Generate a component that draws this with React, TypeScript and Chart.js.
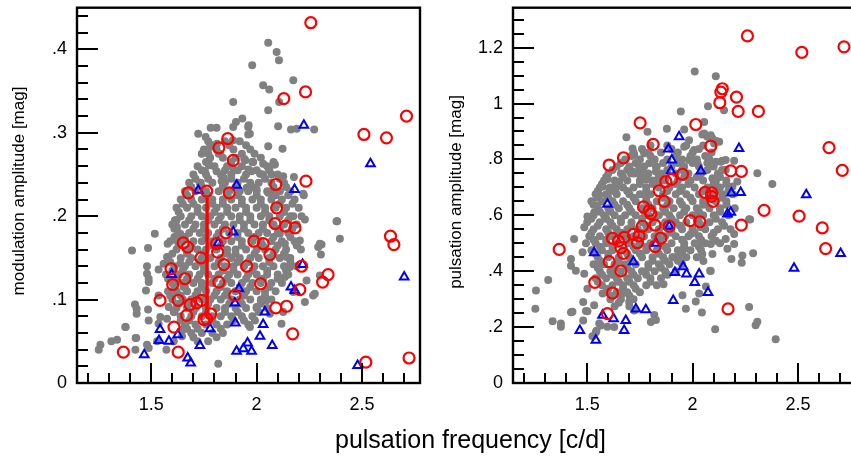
import React, { useEffect, useRef } from "react";
import { Chart, registerables } from "chart.js";

Chart.register(...registerables);

// ---------- axis ticks ----------
const xMajorTicks = [1.5, 2, 2.5];
const xMajorLabels = ["1.5", "2", "2.5"];
const xMinorTicks = [1.2, 1.3, 1.4, 1.6, 1.7, 1.8, 1.9, 2.1, 2.2, 2.3, 2.4, 2.6, 2.7];

const yLeftMajorTicks = [0, 0.1, 0.2, 0.3, 0.4];
const yLeftMajorLabels = ["0", ".1", ".2", ".3", ".4"];
const yLeftMinorTicks = [0.02, 0.04, 0.06, 0.08, 0.12, 0.14, 0.16, 0.18, 0.22, 0.24, 0.26, 0.28, 0.32, 0.34, 0.36, 0.38, 0.42, 0.44];

const yRightMajorTicks = [0, 0.2, 0.4, 0.6, 0.8, 1, 1.2];
const yRightMajorLabels = ["0", ".2", ".4", ".6", ".8", "1", "1.2"];
const yRightMinorTicks = [0.05, 0.1, 0.15, 0.25, 0.3, 0.35, 0.45, 0.5, 0.55, 0.65, 0.7, 0.75, 0.85, 0.9, 0.95, 1.05, 1.1, 1.15, 1.25, 1.3];

const xTitle = "pulsation frequency [c/d]";
const yLeftTitle = "modulation amplitude [mag]";
const yRightTitle = "pulsation amplitude [mag]";

// ---------- LEFT panel: modulation amplitude ----------
const leftRedCircles: [number, number][] = [
  [2.257, 0.432], [2.232, 0.349], [2.129, 0.341], [2.711, 0.320], [2.509, 0.298], [2.616, 0.294],
  [1.863, 0.293], [1.821, 0.282], [1.889, 0.267], [2.234, 0.242], [2.091, 0.238], [1.676, 0.228],
  [1.763, 0.230], [1.870, 0.228], [2.095, 0.210], [2.087, 0.191], [2.137, 0.188], [2.182, 0.186],
  [1.855, 0.180], [1.652, 0.168], [1.673, 0.163], [1.810, 0.167], [1.815, 0.157], [1.987, 0.170],
  [2.031, 0.167], [2.063, 0.154], [2.635, 0.176], [2.651, 0.166], [1.736, 0.150], [1.845, 0.142],
  [1.953, 0.140], [2.213, 0.140], [1.594, 0.137], [1.660, 0.125], [1.602, 0.118], [1.821, 0.121],
  [2.019, 0.119], [2.339, 0.130], [2.313, 0.121], [2.205, 0.112], [1.897, 0.105], [1.542, 0.099],
  [1.628, 0.099], [1.684, 0.094], [1.716, 0.096], [1.739, 0.099], [1.668, 0.081], [1.763, 0.077],
  [1.782, 0.083], [1.750, 0.076], [2.091, 0.090], [2.142, 0.092], [1.608, 0.067], [2.171, 0.059],
  [1.368, 0.037], [1.628, 0.037], [2.518, 0.025], [2.723, 0.030],
];

const leftRedLine: [number, number][] = [[1.765, 0.222], [1.765, 0.083]];

const leftBlueTriangles: [number, number][] = [
  [2.224, 0.309], [2.540, 0.263], [1.723, 0.231], [1.905, 0.237], [2.180, 0.232], [1.889, 0.181],
  [1.818, 0.168], [1.597, 0.130], [2.218, 0.142], [1.916, 0.113], [2.163, 0.115], [2.181, 0.111],
  [2.700, 0.127], [1.897, 0.096], [1.899, 0.072], [2.039, 0.085], [2.031, 0.070], [1.542, 0.064],
  [1.779, 0.065], [1.626, 0.058], [1.537, 0.051], [1.584, 0.050], [1.731, 0.045], [2.016, 0.056],
  [2.074, 0.045], [1.957, 0.048], [1.937, 0.041], [1.905, 0.038], [1.976, 0.038], [1.467, 0.034],
  [1.673, 0.030], [1.687, 0.024], [2.479, 0.021],
];

const leftGrayOuter: [number, number][] = [
  [2.055, 0.408], [2.095, 0.397], [2.106, 0.387], [1.979, 0.381], [2.174, 0.363], [2.031, 0.357],
  [2.060, 0.352], [2.107, 0.337], [1.889, 0.337], [2.055, 0.327], [1.932, 0.317], [1.902, 0.313],
  [1.889, 0.307], [1.960, 0.307], [1.960, 0.298], [1.782, 0.306], [1.810, 0.306], [1.723, 0.299],
  [1.758, 0.295], [2.102, 0.308], [2.163, 0.304], [2.190, 0.305], [2.273, 0.304], [2.055, 0.284],
  [2.123, 0.281], [1.779, 0.283], [1.771, 0.275], [1.941, 0.269], [1.984, 0.265], [2.031, 0.263],
  [2.087, 0.262], [1.774, 0.261], [1.755, 0.254], [1.810, 0.254], [1.976, 0.254], [2.016, 0.251],
  [2.071, 0.250], [2.126, 0.248], [2.177, 0.247], [2.224, 0.225], [1.735, 0.240], [1.834, 0.242],
  [1.953, 0.234], [2.382, 0.194], [1.613, 0.195], [1.888, 0.291], [1.812, 0.287], [1.827, 0.275],
  [1.773, 0.263], [1.844, 0.246], [1.891, 0.256], [1.946, 0.267], [1.962, 0.256], [1.962, 0.309],
  [1.968, 0.299], [1.981, 0.265], [2.082, 0.262], [2.000, 0.232], [2.055, 0.228], [2.079, 0.228],
  [2.221, 0.227],
  [1.259, 0.046], [1.251, 0.040], [1.311, 0.050], [1.338, 0.052], [1.377, 0.067], [1.429, 0.054],
  [1.425, 0.040], [1.409, 0.159], [1.485, 0.162], [1.517, 0.179], [1.578, 0.167], [1.619, 0.195],
  [1.480, 0.140], [1.480, 0.131], [1.535, 0.136], [1.488, 0.125], [1.488, 0.121], [1.475, 0.111],
  [1.535, 0.105], [1.423, 0.094], [1.431, 0.089], [1.431, 0.083], [1.485, 0.088], [1.488, 0.075],
  [1.543, 0.079], [1.535, 0.071], [1.575, 0.077], [1.480, 0.046], [1.488, 0.042], [1.528, 0.050],
  [1.572, 0.040], [1.607, 0.050], [1.646, 0.063], [1.646, 0.056], [1.818, 0.023], [1.575, 0.151],
  [1.559, 0.143], [1.622, 0.187], [1.638, 0.179], [1.622, 0.171], [1.638, 0.143], [1.622, 0.123],
  [1.654, 0.115], [1.583, 0.091], [1.607, 0.085], [1.654, 0.065], [1.379, 0.067], [1.426, 0.054],
  [2.379, 0.194], [2.395, 0.173], [2.300, 0.167], [2.292, 0.163], [2.305, 0.154], [2.229, 0.196],
  [2.213, 0.200], [2.174, 0.200], [2.205, 0.171], [2.190, 0.167], [2.237, 0.123], [2.276, 0.107],
  [2.229, 0.097], [2.300, 0.129], [2.174, 0.109], [2.126, 0.085], [2.118, 0.071], [2.047, 0.099],
  [2.063, 0.083], [2.142, 0.151], [2.158, 0.139], [2.110, 0.179], [2.134, 0.167], [2.134, 0.127],
  [2.000, 0.091], [1.992, 0.075], [1.968, 0.067], [2.308, 0.166], [2.268, 0.105],
];

// dense core, read row by row: [y, x values]
const leftGrayCoreRows: [number, number[]][] = [
  [0.290, [1.77, 1.85, 1.92]],
  [0.285, [1.79, 1.87, 1.95]],
  [0.280, [1.75, 1.81, 1.89, 1.97]],
  [0.275, [1.74, 1.82, 1.93, 1.99]],
  [0.270, [1.78, 1.84, 1.90, 2.02]],
  [0.265, [1.76, 1.88, 1.98, 2.08]],
  [0.260, [1.72, 1.80, 1.86, 1.93, 2.05]],
  [0.255, [1.74, 1.85, 1.91, 2.00, 2.06]],
  [0.250, [1.70, 1.76, 1.83, 1.88, 1.95, 2.03, 2.10]],
  [0.245, [1.71, 1.77, 1.88, 1.94, 2.04, 2.11]],
  [0.240, [1.68, 1.73, 1.79, 1.85, 1.91, 1.97, 2.01, 2.07, 2.13]],
  [0.235, [1.69, 1.74, 1.84, 1.90, 1.98, 2.08, 2.14]],
  [0.230, [1.66, 1.71, 1.76, 1.82, 1.87, 1.92, 1.96, 2.00, 2.05, 2.11, 2.16]],
  [0.225, [1.67, 1.77, 1.86, 1.91, 2.00, 2.09, 2.15]],
  [0.220, [1.64, 1.69, 1.74, 1.79, 1.84, 1.88, 1.93, 1.98, 2.02, 2.07, 2.12, 2.18]],
  [0.215, [1.65, 1.70, 1.79, 1.84, 1.93, 2.02, 2.11, 2.17]],
  [0.210, [1.62, 1.67, 1.72, 1.76, 1.81, 1.86, 1.90, 1.95, 2.00, 2.04, 2.09, 2.14, 2.20]],
  [0.205, [1.63, 1.72, 1.80, 1.86, 1.95, 2.04, 2.13]],
  [0.200, [1.64, 1.69, 1.74, 1.78, 1.83, 1.88, 1.92, 1.97, 2.02, 2.06, 2.11, 2.16]],
  [0.195, [1.62, 1.68, 1.77, 1.82, 1.92, 1.97, 2.06, 2.15]],
  [0.190, [1.60, 1.66, 1.71, 1.75, 1.80, 1.85, 1.89, 1.94, 1.99, 2.03, 2.08, 2.13, 2.19]],
  [0.185, [1.61, 1.70, 1.75, 1.84, 1.94, 2.03, 2.11, 2.17]],
  [0.180, [1.63, 1.68, 1.73, 1.77, 1.82, 1.87, 1.91, 1.96, 2.01, 2.05, 2.10, 2.15]],
  [0.175, [1.61, 1.66, 1.76, 1.81, 1.91, 1.99, 2.08, 2.16]],
  [0.170, [1.59, 1.65, 1.70, 1.74, 1.79, 1.84, 1.88, 1.93, 1.98, 2.02, 2.07, 2.12, 2.18]],
  [0.165, [1.63, 1.69, 1.78, 1.83, 1.93, 2.03, 2.10, 2.19]],
  [0.160, [1.62, 1.67, 1.72, 1.76, 1.81, 1.86, 1.90, 1.95, 2.00, 2.04, 2.09, 2.14, 2.21]],
  [0.155, [1.60, 1.67, 1.75, 1.86, 1.90, 1.99, 2.08, 2.13]],
  [0.150, [1.58, 1.64, 1.69, 1.74, 1.78, 1.83, 1.88, 1.92, 1.97, 2.01, 2.06, 2.11, 2.16]],
  [0.145, [1.59, 1.68, 1.73, 1.82, 1.91, 1.96, 2.06, 2.16]],
  [0.140, [1.61, 1.66, 1.71, 1.75, 1.80, 1.85, 1.89, 1.94, 1.99, 2.03, 2.08, 2.13, 2.19]],
  [0.135, [1.60, 1.65, 1.75, 1.84, 1.89, 1.98, 2.05, 2.14]],
  [0.130, [1.57, 1.63, 1.68, 1.73, 1.77, 1.82, 1.87, 1.91, 1.96, 2.00, 2.05, 2.10, 2.15]],
  [0.125, [1.58, 1.67, 1.72, 1.80, 1.86, 1.95, 2.03, 2.10]],
  [0.120, [1.60, 1.65, 1.70, 1.74, 1.79, 1.84, 1.88, 1.93, 1.98, 2.02, 2.07, 2.12]],
  [0.115, [1.61, 1.66, 1.74, 1.83, 1.92, 1.97, 2.06]],
  [0.110, [1.58, 1.62, 1.67, 1.72, 1.76, 1.81, 1.86, 1.90, 1.95, 2.00, 2.04, 2.09]],
  [0.105, [1.59, 1.64, 1.71, 1.80, 1.85, 1.94, 2.04]],
  [0.100, [1.60, 1.65, 1.69, 1.74, 1.78, 1.83, 1.88, 1.92, 1.97, 2.02, 2.07]],
  [0.095, [1.63, 1.68, 1.77, 1.87, 1.93, 2.02]],
  [0.090, [1.62, 1.67, 1.71, 1.76, 1.81, 1.85, 1.90, 1.95, 2.00, 2.05]],
  [0.085, [1.61, 1.70, 1.76, 1.85, 1.91, 2.01]],
  [0.080, [1.64, 1.69, 1.74, 1.79, 1.83, 1.88, 1.93, 1.98]],
  [0.075, [1.64, 1.68, 1.79, 1.89, 1.94]],
  [0.070, [1.66, 1.71, 1.76, 1.81, 1.86, 1.96]],
  [0.065, [1.67, 1.72, 1.83]],
  [0.060, [1.69, 1.74, 1.79, 1.84]],
  [0.055, [1.70, 1.81]],
  [0.050, [1.72, 1.77]],
];

// ---------- RIGHT panel: pulsation amplitude ----------
const rightRedCircles: [number, number][] = [
  [2.260, 1.242], [2.518, 1.183], [2.718, 1.203], [2.141, 1.053], [2.134, 1.041], [2.208, 1.023],
  [2.129, 1.003], [2.216, 0.972], [2.312, 0.972], [1.751, 0.931], [2.015, 0.925], [1.813, 0.854],
  [2.086, 0.848], [2.647, 0.842], [1.672, 0.806], [1.604, 0.780], [2.181, 0.759], [2.231, 0.757],
  [2.710, 0.761], [1.952, 0.747], [1.900, 0.729], [1.873, 0.721], [1.841, 0.688], [2.059, 0.682],
  [2.091, 0.680], [2.089, 0.668], [2.097, 0.650], [1.865, 0.650], [2.339, 0.618], [1.767, 0.630],
  [1.794, 0.617], [1.802, 0.606], [2.505, 0.597], [1.988, 0.581], [2.034, 0.577], [2.231, 0.565],
  [2.615, 0.555], [2.631, 0.481], [1.889, 0.561], [1.822, 0.565], [1.762, 0.561], [1.718, 0.532],
  [1.746, 0.526], [1.738, 0.502], [1.849, 0.518], [1.822, 0.488], [1.620, 0.518], [1.648, 0.508],
  [1.676, 0.521], [1.660, 0.484], [1.672, 0.464], [1.367, 0.478], [1.604, 0.434], [1.660, 0.401],
  [1.536, 0.360], [1.620, 0.322], [1.596, 0.248], [2.168, 0.265],
];

const rightBlueTriangles: [number, number][] = [
  [1.936, 0.881], [1.885, 0.837], [2.220, 0.839], [1.901, 0.798], [1.897, 0.759], [2.039, 0.759],
  [1.596, 0.640], [2.184, 0.680], [2.228, 0.682], [2.539, 0.674], [2.165, 0.605], [2.181, 0.611],
  [1.889, 0.561], [1.826, 0.500], [1.533, 0.466], [1.719, 0.434], [2.702, 0.463], [2.481, 0.411],
  [1.916, 0.395], [1.955, 0.416], [1.971, 0.390], [2.010, 0.360], [2.031, 0.390], [2.073, 0.324],
  [1.908, 0.295], [1.731, 0.265], [1.778, 0.262], [1.573, 0.242], [1.625, 0.230], [1.683, 0.224],
  [1.675, 0.188], [1.465, 0.188], [1.541, 0.153],
];

const rightGrayOuter: [number, number][] = [
  [2.010, 1.115], [2.110, 1.098], [2.073, 0.990], [2.149, 0.976], [1.944, 0.972], [2.055, 0.934],
  [1.878, 0.910], [1.960, 0.907], [1.686, 0.879], [1.786, 0.899], [2.046, 0.889], [2.070, 0.881],
  [2.094, 0.875], [2.113, 0.866], [2.055, 0.893], [2.086, 0.887], [2.102, 0.857], [2.126, 0.863],
  [1.983, 0.869], [2.007, 0.834], [1.960, 0.845], [1.983, 0.798], [2.023, 0.786], [2.110, 0.792],
  [2.134, 0.792], [2.157, 0.798], [2.141, 0.795], [2.197, 0.795], [2.157, 0.763], [2.126, 0.745],
  [2.110, 0.721], [2.307, 0.751], [2.378, 0.712], [2.273, 0.585], [2.212, 0.721], [2.189, 0.703],
  [2.094, 0.733], [1.715, 0.839], [1.770, 0.822], [1.723, 0.816], [1.794, 0.786], [1.826, 0.774],
  [1.746, 0.774], [1.715, 0.757], [1.731, 0.751], [1.826, 0.757], [1.849, 0.745], [1.596, 0.729],
  [1.652, 0.721], [1.636, 0.697], [1.604, 0.697], [1.707, 0.751], [1.755, 0.739], [1.778, 0.727],
  [1.557, 0.674], [1.573, 0.703], [1.841, 0.721],
  [2.268, 0.586], [2.197, 0.497], [2.165, 0.480], [2.236, 0.456], [2.287, 0.464], [2.184, 0.444],
  [2.233, 0.430], [2.094, 0.462], [2.046, 0.462], [2.083, 0.402], [2.086, 0.497], [2.110, 0.509],
  [2.197, 0.533], [2.157, 0.515], [2.031, 0.320], [2.015, 0.292], [1.968, 0.266], [2.044, 0.252],
  [1.952, 0.314], [2.268, 0.272], [2.307, 0.219], [2.299, 0.207], [2.107, 0.192], [2.394, 0.157],
  [2.039, 0.557], [1.991, 0.533], [1.960, 0.480], [1.936, 0.462], [2.063, 0.345], [2.086, 0.401],
  [2.051, 0.437],
  [1.257, 0.331], [1.254, 0.266], [1.315, 0.369], [1.336, 0.221], [1.375, 0.213], [1.375, 0.201],
  [1.430, 0.255], [1.494, 0.258], [1.438, 0.515], [1.423, 0.444], [1.423, 0.420], [1.446, 0.402],
  [1.486, 0.391], [1.478, 0.468], [1.494, 0.500], [1.501, 0.596], [1.486, 0.557], [1.549, 0.633],
  [1.533, 0.610], [1.501, 0.337], [1.481, 0.290], [1.533, 0.278], [1.557, 0.213], [1.544, 0.187],
  [1.596, 0.201], [1.818, 0.243], [1.826, 0.225], [1.862, 0.353], [1.873, 0.391], [1.904, 0.450],
  [1.936, 0.438], [1.573, 0.320], [1.667, 0.320], [1.699, 0.290], [1.423, 0.253], [1.501, 0.257],
  [1.481, 0.224], [1.541, 0.182], [1.525, 0.167], [1.565, 0.206], [1.628, 0.200], [1.723, 0.259],
  [1.802, 0.218],
];

const rightGrayCoreRows: [number, number[]][] = [
  [0.850, [1.80, 1.88, 1.97, 2.05]],
  [0.8375, [1.76, 1.90, 2.03]],
  [0.825, [1.72, 1.79, 1.85, 1.93, 2.00, 2.09]],
  [0.8125, [1.71, 1.80, 1.92, 1.99, 2.06]],
  [0.800, [1.68, 1.75, 1.82, 1.88, 1.95, 2.02, 2.08]],
  [0.7875, [1.66, 1.73, 1.86, 1.93, 2.00, 2.07]],
  [0.775, [1.64, 1.70, 1.77, 1.83, 1.90, 1.96, 2.03, 2.10]],
  [0.7625, [1.62, 1.69, 1.76, 1.88, 1.95, 2.07, 2.14]],
  [0.750, [1.60, 1.66, 1.72, 1.79, 1.85, 1.92, 1.98, 2.04, 2.12]],
  [0.7375, [1.59, 1.67, 1.78, 1.84, 1.96, 2.02, 2.13]],
  [0.725, [1.58, 1.63, 1.69, 1.75, 1.81, 1.87, 1.93, 1.99, 2.05, 2.10, 2.16]],
  [0.7125, [1.57, 1.64, 1.75, 1.81, 1.92, 1.98, 2.10, 2.16]],
  [0.700, [1.56, 1.61, 1.67, 1.72, 1.78, 1.84, 1.89, 1.95, 2.01, 2.07, 2.13]],
  [0.6875, [1.55, 1.62, 1.69, 1.78, 1.88, 1.94, 2.05, 2.11, 2.17]],
  [0.675, [1.54, 1.59, 1.64, 1.70, 1.75, 1.80, 1.86, 1.92, 1.97, 2.03, 2.08, 2.14, 2.19]],
  [0.6625, [1.55, 1.60, 1.72, 1.78, 1.86, 1.99, 2.08, 2.14]],
  [0.650, [1.52, 1.57, 1.62, 1.67, 1.73, 1.78, 1.83, 1.89, 1.94, 2.00, 2.05, 2.11, 2.16]],
  [0.6375, [1.53, 1.63, 1.69, 1.79, 1.88, 1.95, 2.05, 2.16]],
  [0.625, [1.55, 1.60, 1.65, 1.70, 1.76, 1.81, 1.86, 1.91, 1.97, 2.02, 2.08, 2.13, 2.20]],
  [0.6125, [1.56, 1.61, 1.71, 1.77, 1.87, 1.96, 2.03, 2.13]],
  [0.600, [1.53, 1.58, 1.63, 1.68, 1.73, 1.79, 1.84, 1.89, 1.94, 2.00, 2.05, 2.10, 2.17]],
  [0.5875, [1.52, 1.59, 1.66, 1.76, 1.82, 1.90, 2.02, 2.11]],
  [0.575, [1.50, 1.56, 1.61, 1.66, 1.71, 1.76, 1.81, 1.87, 1.92, 1.97, 2.03, 2.08, 2.14]],
  [0.5625, [1.55, 1.62, 1.71, 1.78, 1.86, 1.94, 2.05, 2.15]],
  [0.550, [1.53, 1.59, 1.64, 1.69, 1.74, 1.79, 1.84, 1.89, 1.95, 2.00, 2.06, 2.12, 2.18]],
  [0.5375, [1.52, 1.60, 1.66, 1.76, 1.84, 1.90, 2.01, 2.10]],
  [0.525, [1.51, 1.56, 1.62, 1.67, 1.72, 1.77, 1.82, 1.87, 1.92, 1.98, 2.03, 2.09]],
  [0.5125, [1.53, 1.59, 1.69, 1.75, 1.84, 1.95, 2.04]],
  [0.500, [1.54, 1.59, 1.64, 1.70, 1.75, 1.80, 1.85, 1.90, 1.96, 2.01, 2.06, 2.13]],
  [0.4875, [1.56, 1.62, 1.72, 1.78, 1.87, 1.96, 2.03]],
  [0.475, [1.52, 1.57, 1.62, 1.67, 1.73, 1.78, 1.83, 1.88, 1.93, 1.99, 2.04]],
  [0.4625, [1.54, 1.60, 1.69, 1.75, 1.84, 1.95]],
  [0.450, [1.55, 1.60, 1.65, 1.70, 1.76, 1.81, 1.86, 1.91, 1.97, 2.02]],
  [0.4375, [1.56, 1.65, 1.71, 1.81, 1.87, 1.93]],
  [0.425, [1.53, 1.58, 1.63, 1.68, 1.73, 1.79, 1.84, 1.89, 1.95]],
  [0.4125, [1.55, 1.63, 1.69, 1.79, 1.85]],
  [0.400, [1.56, 1.61, 1.66, 1.71, 1.76, 1.82, 1.87, 1.92]],
  [0.3875, [1.57, 1.62, 1.72, 1.78, 1.88]],
  [0.375, [1.54, 1.59, 1.64, 1.69, 1.74, 1.80, 1.85]],
  [0.3625, [1.55, 1.65, 1.70, 1.80]],
  [0.350, [1.57, 1.62, 1.67, 1.72, 1.78, 1.83]],
  [0.3375, [1.60, 1.67, 1.73]],
  [0.325, [1.59, 1.64, 1.69, 1.75]],
  [0.3125, [1.62, 1.70]],
  [0.300, [1.61, 1.66, 1.72]],
  [0.2875, [1.65]],
  [0.275, [1.63, 1.70]],
];

// ---------- helpers ----------
const X_MIN = 1.148;
const X_MAX = 2.775;
const FONT = "'Liberation Sans', Arial, Helvetica, sans-serif";
const CANVAS_W = 440;
const CANVAS_H = 461;

const toPts = (arr: [number, number][]) => arr.map(([x, y]) => ({ x, y }));
const rowsToPts = (rows: [number, number[]][]) =>
  rows.flatMap(([y, xs]) => xs.map((x) => ({ x, y })));

const frameTicks = {
  id: "frameTicks",
  afterDatasetsDraw(chart: any, _args: any, opts: any) {
    const { ctx, chartArea: a, scales } = chart;
    const xs = scales.x;
    const ys = scales.y;
    ctx.save();
    ctx.strokeStyle = "#000";
    ctx.lineWidth = 2;
    ctx.lineCap = "butt";
    ctx.beginPath();
    for (const v of opts.xMinor) {
      const p = Math.round(xs.getPixelForValue(v));
      ctx.moveTo(p, a.bottom);
      ctx.lineTo(p, a.bottom - 10);
    }
    for (const v of opts.xMajor) {
      const p = Math.round(xs.getPixelForValue(v));
      ctx.moveTo(p, a.bottom);
      ctx.lineTo(p, a.bottom - 20);
    }
    for (const v of opts.yMinor) {
      const p = Math.round(ys.getPixelForValue(v));
      ctx.moveTo(a.left, p);
      ctx.lineTo(a.left + 11, p);
    }
    for (const v of opts.yMajor) {
      const p = Math.round(ys.getPixelForValue(v));
      ctx.moveTo(a.left, p);
      ctx.lineTo(a.left + 21, p);
    }
    ctx.stroke();
    ctx.lineWidth = 2.4;
    ctx.strokeRect(a.left, a.top, a.right - a.left, a.bottom - a.top);
    ctx.restore();
  },
};

type PanelSpec = {
  red: [number, number][];
  blue: [number, number][];
  grayOuter: [number, number][];
  grayRows: [number, number[]][];
  line?: [number, number][];
  yMax: number;
  yMajor: number[];
  yLabels: string[];
  yMinor: number[];
};

function makeConfig(spec: PanelSpec): any {
  const datasets: any[] = [
    {
      data: toPts(spec.red),
      pointStyle: "circle",
      pointRadius: 5.5,
      borderColor: "#ff0000",
      backgroundColor: "rgba(0,0,0,0)",
      borderWidth: 2.2,
    },
  ];
  if (spec.line) {
    datasets.push({
      type: "line",
      data: toPts(spec.line),
      borderColor: "#ff0000",
      borderWidth: 3.5,
      pointRadius: 0,
      showLine: true,
      fill: false,
    });
  }
  datasets.push(
    {
      data: toPts(spec.blue),
      pointStyle: "triangle",
      pointRadius: 5,
      borderColor: "#0000ff",
      backgroundColor: "rgba(0,0,0,0)",
      borderWidth: 2,
    },
    {
      data: [...toPts(spec.grayOuter), ...rowsToPts(spec.grayRows)],
      pointStyle: "circle",
      pointRadius: 4,
      backgroundColor: "#808080",
      borderWidth: 0,
    }
  );
  const tickFont = { family: FONT, size: 18 };
  return {
    type: "scatter",
    data: { datasets },
    options: {
      animation: false,
      responsive: false,
      devicePixelRatio: 1,
      events: [],
      layout: { padding: { left: 0, right: 20, top: 5, bottom: 0 } },
      plugins: {
        legend: { display: false },
        tooltip: { enabled: false },
        frameTicks: {
          xMajor: xMajorTicks,
          xMinor: xMinorTicks,
          yMajor: spec.yMajor,
          yMinor: spec.yMinor,
        },
      },
      scales: {
        x: {
          type: "linear",
          min: X_MIN,
          max: X_MAX,
          grid: { display: false, drawTicks: false },
          border: { display: false },
          afterBuildTicks: (s: any) => {
            s.ticks = xMajorTicks.map((v) => ({ value: v }));
          },
          afterFit: (s: any) => {
            s.height = 78;
            s.paddingLeft = 0;
            s.paddingRight = 0;
          },
          ticks: {
            callback: (_v: any, i: number) => xMajorLabels[i],
            font: tickFont,
            color: "#000",
            padding: 11,
            maxRotation: 0,
            autoSkip: false,
          },
        },
        y: {
          type: "linear",
          min: 0,
          max: spec.yMax,
          grid: { display: false, drawTicks: false },
          border: { display: false },
          afterBuildTicks: (s: any) => {
            s.ticks = spec.yMajor.map((v) => ({ value: v }));
          },
          afterFit: (s: any) => {
            s.width = 77;
            s.paddingTop = 0;
            s.paddingBottom = 0;
          },
          ticks: {
            callback: (_v: any, i: number) => spec.yLabels[i],
            font: tickFont,
            color: "#000",
            padding: 10,
            autoSkip: false,
          },
        },
      },
    },
    plugins: [frameTicks],
  };
}

const leftSpec: PanelSpec = {
  red: leftRedCircles,
  blue: leftBlueTriangles,
  grayOuter: leftGrayOuter,
  grayRows: leftGrayCoreRows,
  line: leftRedLine,
  yMax: 0.45,
  yMajor: yLeftMajorTicks,
  yLabels: yLeftMajorLabels,
  yMinor: yLeftMinorTicks,
};

const rightSpec: PanelSpec = {
  red: rightRedCircles,
  blue: rightBlueTriangles,
  grayOuter: rightGrayOuter,
  grayRows: rightGrayCoreRows,
  yMax: 1.343,
  yMajor: yRightMajorTicks,
  yLabels: yRightMajorLabels,
  yMinor: yRightMinorTicks,
};

function Panel({ spec, left }: { spec: PanelSpec; left: number }) {
  const ref = useRef<HTMLCanvasElement>(null);
  useEffect(() => {
    if (!ref.current) return;
    const chart = new Chart(ref.current, makeConfig(spec));
    return () => chart.destroy();
  }, []);
  return (
    <canvas
      ref={ref}
      width={CANVAS_W}
      height={CANVAS_H}
      style={{ position: "absolute", left, top: 0, width: CANVAS_W, height: CANVAS_H }}
    />
  );
}

const rotTitle = (cx: number, cy: number): React.CSSProperties => ({
  position: "absolute",
  left: cx - 150,
  top: cy - 10,
  width: 300,
  height: 20,
  lineHeight: "20px",
  fontSize: 17,
  fontFamily: FONT,
  textAlign: "center",
  color: "#000",
  whiteSpace: "nowrap",
  transform: "rotate(-90deg)",
});

export default function App() {
  return (
    <div
      style={{
        position: "fixed",
        left: 0,
        top: 0,
        width: 851,
        height: 461,
        overflow: "hidden",
        background: "#fff",
      }}
    >
      <Panel spec={leftSpec} left={0} />
      <Panel spec={rightSpec} left={436} />
      <div style={rotTitle(19, 191)}>{yLeftTitle}</div>
      <div style={rotTitle(456, 192)}>{yRightTitle}</div>
      <div
        style={{
          position: "absolute",
          left: 170,
          top: 427,
          width: 601,
          textAlign: "center",
          fontFamily: FONT,
          fontSize: 25,
          lineHeight: "25px",
          color: "#000",
          whiteSpace: "nowrap",
        }}
      >
        {xTitle}
      </div>
    </div>
  );
}
